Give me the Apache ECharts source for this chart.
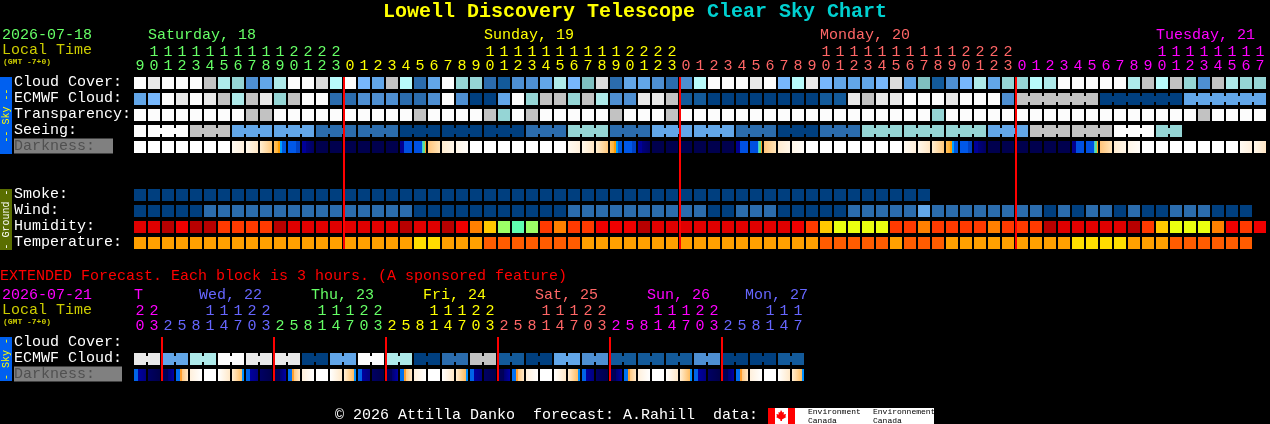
<!DOCTYPE html>
<html><head><meta charset="utf-8">
<style>html,body{margin:0;padding:0;background:#000}#c{width:1270px;height:424px}</style>
<script src="https://cdn.jsdelivr.net/npm/echarts@6/dist/echarts.min.js"></script>
</head><body><div id="c"></div>
<script>
const hours = [9,10,11,12,13,14,15,16,17,18,19,20,21,22,23,
  0,1,2,3,4,5,6,7,8,9,10,11,12,13,14,15,16,17,18,19,20,21,22,23,
  0,1,2,3,4,5,6,7,8,9,10,11,12,13,14,15,16,17,18,19,20,21,22,23,
  0,1,2,3,4,5,6,7,8,9,10,11,12,13,14,15,16,17];
const extHours = [20,23,
  2,5,8,11,14,17,20,23, 2,5,8,11,14,17,20,23, 2,5,8,11,14,17,20,23,
  2,5,8,11,14,17,20,23, 2,5,8,11,14,17,20,23, 2,5,8,11,14,17];
const skyRows = ['Cloud Cover:','ECMWF Cloud:','Transparency:','Seeing:','Darkness:'];
const groundRows = ['Smoke:','Wind:','Humidity:','Temperature:'];
const extRows = ['Cloud Cover:','ECMWF Cloud:','Darkness:'];
const dayLabels = ['Saturday, 18','Sunday, 19','Monday, 20','Tuesday, 21'];
const extDayLabels = ['T','Wed, 22','Thu, 23','Fri, 24','Sat, 25','Sun, 26','Mon, 27'];
const dayColors = ['#66ff66','#ffff00','#ff6666','#ff00ff'];
const extDayColors = ['#ff00ff','#6666ff','#66ff66','#ffff00','#ff6666','#ff00ff','#6666ff'];

const cloud = [0,1,0,0,0,3,5,6,10,9,5,0,0,2,4, 0,8,9,3,4,11, 9,0,6,6,11,12,10,10,9,5,8,7,2,11,9,9,10,11,
  10,4,0,0,0,1,0,8,4,1,8,9, 9,9,8,2,9,7,12,10,8,5,9,6, 6,4,5,0,0,0,0,0,5,3,4,3,6,10,3,5,6,6];
const ecmwf = [9,8,0,1,0,1,3,5,3,1,6,3,0,0,11, 11,10,10,10,11,11, 10,0,10,13,13,9,0,6,3,3,6,3,5,10,10,1,1,3,
  12,12,13,13,13,13,13,13,13,13,12,12, 1,3,1,1,0,0,0,1,0,0,0,10, 3,3,3,3,3,3,13,13,13,13,13,13,9,9,9,9,9,9];
const transparency = [0,0,0,0,0,0,0,0,3,3,0,0,0,0,0, 0,0,0,0,0,3, 0,0,0,0,3,6,0,3,0,0,0,0,0,3,0,0,0,3,
  0,0,0,0,0,0,0,0,0,0,0,0, 0,0,0,0,0,0,6,0,0,0,0,0, 0,0,0,0,0,0,0,0,0,0,0,0,0,3,0,0,0,0];
const seeing = [0, 0,0,0, 3,3,3, 9,9,9, 9,9,9, 11,11,11, 11,11,11, 13,13,13, 13,13,13, 13,13,13,
  11,11,11, 6,6,6, 11,11,11, 9,9,9, 9,9,9, 11,11,11, 13,13,13, 11,11,11, 6,6,6, 6,6,6, 6,6,6,
  9,9,9, 3,3,3, 3,3,3, 0,0,0, 6,6];
const darkness = [0,0,0,0,0,0,0,1,2,3,4,5,6,7,7,7,7,7,7,8,9,10,11,12,
  0,0,0,0,0,0,0,1,2,3,4,5,6,7,7,7,7,7,7,8,9,10,11,12,
  0,0,0,0,0,0,0,1,2,3,4,5,6,7,7,7,7,7,7,8,9,10,11,12,
  0,0,0,0,0,0,0,1,2];
const smoke = [13,13,13,13,13,13,13,13,13,13,13,13,13,13,13,13,13,13,13,13,13,13,13,13,13,13,13,13,13,
  13,13,13,13,13,13,13,13,13,13,13,13,13,13,13,13,13,13,13,13,13,13,13,13,13,13,13,13];
const wind = [13,13,13,13,13,11,11,11,11,11,11,11,11,11,11,11,11,11,11,11,
  13,13,13,13,13,13,13,13,13,13,13,11,11,11,11,11,11,11,11,11,11,13,13,11,11,11,13,13,13,13,13,
  11,11,11,11,11,9,11,11,11,11,11,11,11,11,13,11,13,11,11,13,11,13,13,11,11,11,13,13,13];
const humidity = [7,7,8,6,8,8,5,5,5,5,8,7,7,7,7,7,7,7,7,8,7,7,8,6,4,3,1,0,1,5,4,5,5,6,6,6,8,7,7,
  7,7,7,7,7,7,7,7,6,5,3,2,2,2,2,5,5,4,5,5,5,5,4,5,5,5,8,7,7,7,7,7,8,5,3,2,2,2,4,6,5,6];
const temperature = [1,1,1,1,1,1,1,1,1,1,1,1,1,1,1,1,1,1,1,1,0,0,1,1,1,2,2,2,2,2,2,2,
  1,1,1,1,1,1,1,1,1,1,1,1,1,1,1,1,1,2,2,2,2,2,1,2,2,2,1,1,1,1,1,1,1,1,1,0,0,0,0,1,1,1,2,2,2,2,2,2];
const extEcmwf = [1,1,9,9,5,5,0,0,1,1,1,1,13,13,9,9,0,0,5,5,13,13,11,11,3,3,12,12,13,13,9,9,10,10,12,12,12,12,12,12,10,10,13,13,13,13,12,12];
const extDarkness = [13,14,15,16,17,0,18,19, 13,14,15,16,17,0,18,19, 13,14,15,16,17,0,18,19,
  13,14,15,16,17,0,18,19, 13,14,15,16,17,0,18,19, 13,14,15,16,17,0,18,19];
const midnights = [15,39,63];
const extMidnights = [2,10,18,26,34,42];

const cloudPalette = ['#fcfcfc','#e9e9e9','#dcdcdc','#c2c2c2','#b8fbfb','#aeeaea','#95d5d5','#7fbfbf',
  '#77b7fc','#62a6e8','#4e8fd2','#2b6cad','#135a9a','#003f7f'];
const humidityPalette = ['#5effb0','#9cff66','#eaff10','#ffc800','#ff8000','#ff3a00','#f00000','#e00000','#b80000'];
const tempPalette = ['#ffdd00','#ffa000','#ff5c00'];
const hard = (segs)=>{const s=[];segs.forEach(([a,b,c,d])=>{s.push({offset:a,color:c});s.push({offset:b,color:d||c});});return s;};
const darkPalette = [
  hard([[0,1,'#ffffff']]),
  hard([[0,1,'#fffaf2','#fff0dc']]),
  hard([[0,1,'#fff8ec','#ffe6c4']]),
  hard([[0,1,'#ffeed2','#ffc87c']]),
  hard([[0,.36,'#ffc060','#ffb030'],[.36,.5,'#ff9d00'],[.5,.67,'#00a0ff'],[.67,1,'#0058e0']]),
  hard([[0,.7,'#0058e8'],[.7,1,'#0042c4']]),
  hard([[0,.3,'#000098'],[.3,1,'#000080','#000060']]),
  hard([[0,1,'#00004e']]),
  hard([[0,.3,'#000090'],[.3,1,'#0050e0']]),
  hard([[0,.67,'#0050e0'],[.67,.78,'#40c8d8'],[.78,.89,'#60e090'],[.89,1,'#ffa020']]),
  hard([[0,1,'#ffc47a','#ffe4b8']]),
  hard([[0,1,'#ffecd0','#fff6e8']]),
  hard([[0,1,'#fff6e8','#fffcf8']]),
  hard([[0,.33,'#0064e8'],[.33,1,'#0000a0','#000080']]),
  hard([[0,1,'#000064','#00004a']]),
  hard([[0,.5,'#000058'],[.5,1,'#000070','#0000a8']]),
  hard([[0,.33,'#0070f0'],[.33,.5,'#ffa030'],[.5,1,'#ffc880','#ffe8c8']]),
  hard([[0,1,'#fff0dc','#ffffff']]),
  hard([[0,1,'#ffffff','#ffe8c8']]),
  hard([[0,.83,'#ffeed4','#ffbc60'],[.83,1,'#0090ff']])
];

const FONT = 'Liberation Mono';
const CELL = 12, JOIN_H = 6, GAP = 2;

function rowSeries(name, values, palette, row, gi, joinStart, joinSize, gradient) {
  return {
    type:'custom', name, xAxisIndex:gi, yAxisIndex:gi, clip:false, silent:true,
    data: values.map((v,i)=>[i,row,v]),
    renderItem(params, api) {
      const i = api.value(0), level = api.value(2);
      const c = api.coord([i, api.value(1)]);
      const fill = gradient ? new echarts.graphic.LinearGradient(0,0,1,0,palette[level]) : palette[level];
      const kids = [{type:'rect', shape:{x:c[0]-CELL/2,y:c[1]-CELL/2,width:CELL,height:CELL}, style:{fill}}];
      if (joinSize && i>=joinStart && (i-joinStart)%joinSize!==joinSize-1 && i<values.length-1) {
        kids.push({type:'rect', shape:{x:c[0]+CELL/2,y:c[1]-JOIN_H/2,width:GAP,height:JOIN_H}, style:{fill}});
      }
      return {type:'group', children:kids};
    }
  };
}
function midnightSeries(name, cols, gi, up, len) {
  return {
    type:'custom', name, xAxisIndex:gi, yAxisIndex:gi, clip:false, silent:true, z:10,
    data: cols.map(i=>[i,0]),
    renderItem(params, api) {
      const c = api.coord([api.value(0), api.value(1)]);
      return {type:'rect', shape:{x:c[0]-7,y:c[1]-up,width:2,height:len}, style:{fill:'#ff0000'}};
    }
  };
}
function hourLabel(v){const n=+v;return n>=10?Math.floor(n/10)+'\n'+(n%10):String(n);}
function dayIndex(list){let d=0;return list.map((h,i)=>{if(i&&h<list[i-1])d++;return d;});}
const hourDays = dayIndex(hours), extDays = dayIndex(extHours);

function xAxis(gi, list, colors, days, shown, margin, lh) {
  return {
    type:'category', gridIndex:gi, position:'top', data:list.map(String), boundaryGap:true,
    axisLine:{show:false}, axisTick:{show:false}, splitLine:{show:false},
    axisLabel: shown ? {show:true, interval:0, margin, fontFamily:FONT, fontSize:15, lineHeight:lh, hideOverlap:false,
      formatter:hourLabel, color:(v,i)=>colors[days[i]]} : {show:false}
  };
}
function yAxis(gi, rows, boxW) {
  return {
    type:'category', gridIndex:gi, data:rows, inverse:true,
    axisLine:{show:false}, axisTick:{show:false}, splitLine:{show:false},
    axisLabel:{interval:0, margin:119, align:'left', fontFamily:FONT, fontSize:15, color:'#ffffff', padding:[0,0,2,0],
      formatter:(v)=> v==='Darkness:' ? '{dark|'+v+'}' : v,
      rich:{dark:{color:'#505050', backgroundColor:'#808080', fontFamily:FONT, fontSize:15, width:boxW, height:15, lineHeight:15}}}
  };
}
function txt(x,y,text,fill,size,extra){
  return Object.assign({type:'text', x, y, silent:true,
    style:{text, fill, font:(extra&&extra.weight||'normal')+' '+(size||15)+'px "'+FONT+'"', textVerticalAlign:'middle'}}, extra&&extra.el);
}
function sideBar(y,h,color,textFill,label){
  return [{type:'rect', shape:{x:0,y,width:12,height:h}, style:{fill:color}, silent:true},
    {type:'text', x:6, y:y+h/2, rotation:Math.PI/2, silent:true,
     style:{text:label, fill:textFill, font:'10px "'+FONT+'"', textAlign:'center', textVerticalAlign:'middle'}}];
}
const leaf = [[781,410],[782.5,412.5],[784,412],[783.6,414.5],[786,414],[785.4,416.5],[786.4,417],[782,419.5],[782,421],[780.4,421],[780.4,419.5],[776,417],[777,416.5],[776.4,414],[778.8,414.5],[778.4,412],[780,412.5]];

const graphicEls = [
  txt(2,35,'2026-07-18','#66ff66'), txt(2,50,'Local Time','#cccc00'),
  txt(3,62,'(GMT -7+0)','#cccc00',8,{weight:'bold'}),
  txt(148,35,dayLabels[0],dayColors[0]), txt(484,35,dayLabels[1],dayColors[1]),
  txt(820,35,dayLabels[2],dayColors[2]), txt(1156,35,dayLabels[3],dayColors[3]),
  txt(0,276,'EXTENDED Forecast. Each block is 3 hours. (A sponsored feature)','#ff0000'),
  txt(2,295,'2026-07-21','#ff00ff'), txt(2,310,'Local Time','#cccc00'),
  txt(3,322,'(GMT -7+0)','#cccc00',8,{weight:'bold'}),
  ...[134,199,311,423,535,647,745].map((x,i)=>txt(x,295,extDayLabels[i],extDayColors[i])),
  ...sideBar(77,77,'#0060f0','#ffff00','-- Sky --'),
  ...sideBar(189,61,'#5a6e00','#ffffff','- Ground -'),
  ...sideBar(337,44,'#0060f0','#ffff00','- Sky -'),
  txt(335,415,'\u00a9 2026 Attilla Danko  forecast: A.Rahill  data:','#ffffff'),
  {type:'rect', shape:{x:775,y:408,width:159,height:16}, style:{fill:'#ffffff'}, silent:true},
  {type:'rect', shape:{x:768,y:408,width:7,height:16}, style:{fill:'#ff0000'}, silent:true},
  {type:'rect', shape:{x:788,y:408,width:7,height:16}, style:{fill:'#ff0000'}, silent:true},
  {type:'polygon', shape:{points:leaf}, style:{fill:'#ff0000'}, silent:true},
  txt(808,412,'Environment','#000000',8), txt(808,420.5,'Canada','#000000',8),
  txt(873,412,'Environnement','#000000',8), txt(873,420.5,'Canada','#000000',8)
];

const option = {
  backgroundColor:'#000000', animation:false,
  title:{left:383, top:0, padding:0,
    text:'{a|Lowell Discovery Telescope} {b|Clear Sky Chart}',
    textStyle:{fontFamily:FONT, fontWeight:'bold', fontSize:20, lineHeight:23,
      rich:{a:{color:'#ffff00',fontFamily:FONT,fontWeight:'bold',fontSize:20},
            b:{color:'#00d0d0',fontFamily:FONT,fontWeight:'bold',fontSize:20}}}},
  grid:[
    {left:133, top:75, width:1134, height:80},
    {left:133, top:187, width:1134, height:64},
    {left:133, top:335, width:672, height:48}
  ],
  xAxis:[
    xAxis(0,hours,dayColors,hourDays,true,2,14),
    xAxis(1,hours,dayColors,hourDays,false),
    xAxis(2,extHours,extDayColors,extDays,true,1,15)
  ],
  yAxis:[yAxis(0,skyRows,99), yAxis(1,groundRows,99), yAxis(2,extRows,108)],
  series:[
    rowSeries('Cloud Cover',cloud,cloudPalette,0,0),
    rowSeries('ECMWF Cloud',ecmwf,cloudPalette,1,0,63,6),
    rowSeries('Transparency',transparency,cloudPalette,2,0),
    rowSeries('Seeing',seeing,cloudPalette,3,0,1,3),
    rowSeries('Darkness',darkness,darkPalette,4,0,0,0,true),
    rowSeries('Smoke',smoke,cloudPalette,0,1),
    rowSeries('Wind',wind,cloudPalette,1,1),
    rowSeries('Humidity',humidity,humidityPalette,2,1),
    rowSeries('Temperature',temperature,tempPalette,3,1),
    rowSeries('Extended ECMWF Cloud',extEcmwf,cloudPalette,1,2,0,2),
    rowSeries('Extended Darkness',extDarkness,darkPalette,2,2,0,0,true),
    midnightSeries('Midnight',midnights,0,6,172),
    midnightSeries('Extended Midnight',extMidnights,2,6,44)
  ],
  graphic:{elements:graphicEls}
};
echarts.init(document.getElementById('c'),null,{renderer:'canvas'}).setOption(option);
</script></body></html>
